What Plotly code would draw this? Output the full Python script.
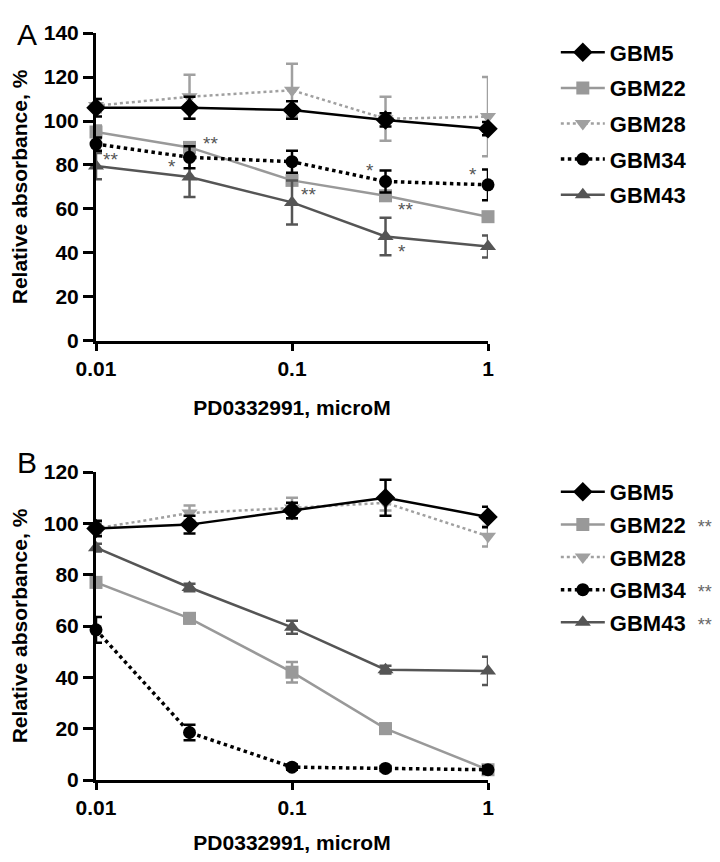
import math
import plotly.graph_objects as go

# ---------------- data ----------------
conc = [0.01, 0.03, 0.1, 0.3, 1]
names = ["GBM5", "GBM22", "GBM28", "GBM34", "GBM43"]

# Panel A
a_gbm5 = [106, 106, 105, 100.5, 96.5]
a_gbm5_err = [4, 5, 4, 3, 3]
a_gbm22 = [95, 88, 73, 66, 56.5]
a_gbm22_err = [3, 2, 2, 2, 1.5]
a_gbm28 = [107, 111, 114, 101, 102]
a_gbm28_err = [3, 10, 12, 10, 18]
a_gbm34 = [89.5, 83.5, 81.5, 72.5, 71]
a_gbm34_err = [3, 5, 5, 5, 7]
a_gbm43 = [79.5, 74.5, 63, 47.5, 43]
a_gbm43_err = [6, 9, 10, 8.5, 5]

# Panel B
b_gbm5 = [98, 99.5, 105, 110, 102.5]
b_gbm5_err = [3, 3.5, 3, 7, 4]
b_gbm22 = [77, 63, 42, 20, 4]
b_gbm22_err = [2, 2, 4, 2, 1]
b_gbm28 = [98, 104, 106, 108, 95]
b_gbm28_err = [2, 3, 4, 3, 4]
b_gbm34 = [58.5, 18.5, 5, 4.5, 4]
b_gbm34_err = [5, 3, 1, 1, 1.5]
b_gbm43 = [90.5, 75, 59.5, 43, 42.5]
b_gbm43_err = [1.5, 1.5, 2.5, 1.5, 5.5]

# significance marks in panel A (x, y, text)
sig_x = [0.0386, 0.0118, 0.0244, 0.121, 0.25, 0.378, 0.364, 0.838, 1.25, 1.25]
sig_y = [91.4, 84.5, 81, 68.6, 79.5, 61.4, 42.3, 77.3, 56, 37.3]
sig_t = ["**", "**", "*", "**", "*", "**", "*", "*", "**", "**"]

# legend significance for panel B
b_legend_sig = {"GBM5": "", "GBM22": "**", "GBM28": "", "GBM34": "**", "GBM43": "**"}

x_ticks = [0.01, 0.1, 1]
x_tick_text = ["0.01", "0.1", "1"]
ya_ticks = [0, 20, 40, 60, 80, 100, 120, 140]
yb_ticks = [0, 20, 40, 60, 80, 100, 120]

# ---------------- styles ----------------
style = {
    "GBM5": dict(color="#000000", symbol="diamond", size=15, dash="solid", width=2.5),
    "GBM22": dict(color="#999999", symbol="square", size=13, dash="solid", width=2.5),
    "GBM28": dict(color="#a0a0a0", symbol="triangle-down", size=14, dash="dot", width=2.5),
    "GBM34": dict(color="#000000", symbol="circle", size=13, dash="dot", width=3.5),
    "GBM43": dict(color="#555555", symbol="triangle-up", size=14, dash="solid", width=2.5),
}
draw_order = ["GBM28", "GBM22", "GBM43", "GBM34", "GBM5"]

FONT = "Liberation Sans, Arial, sans-serif"

panel_a = {"GBM5": (a_gbm5, a_gbm5_err), "GBM22": (a_gbm22, a_gbm22_err),
           "GBM28": (a_gbm28, a_gbm28_err), "GBM34": (a_gbm34, a_gbm34_err),
           "GBM43": (a_gbm43, a_gbm43_err)}
panel_b = {"GBM5": (b_gbm5, b_gbm5_err), "GBM22": (b_gbm22, b_gbm22_err),
           "GBM28": (b_gbm28, b_gbm28_err), "GBM34": (b_gbm34, b_gbm34_err),
           "GBM43": (b_gbm43, b_gbm43_err)}

fig = go.Figure()


def add_panel(data, xa, ya, legend, sig_legend=None):
    for n in draw_order:
        vals, err = data[n]
        s = style[n]
        label = "<b>" + n + "</b>"
        if sig_legend and sig_legend[n]:
            label += "\u00a0\u00a0<span style='color:#666666;font-size:18px'>" + sig_legend[n] + "</span>"
        fig.add_trace(go.Scatter(
            x=conc, y=vals, mode="lines+markers", name=label,
            xaxis=xa, yaxis=ya, legend=legend, legendrank=names.index(n) + 1,
            legendgroup=legend + n,
            line=dict(color=s["color"], dash=s["dash"], width=s["width"]),
            marker=dict(color=s["color"], symbol=s["symbol"], size=s["size"],
                        line=dict(width=0)),
            error_y=dict(type="data", array=err, visible=True, color=s["color"],
                         thickness=2.5, width=6),
            cliponaxis=False,
        ))


add_panel(panel_a, "x", "y", "legend")
add_panel(panel_b, "x2", "y2", "legend2", b_legend_sig)

for sx, sy, st in zip(sig_x, sig_y, sig_t):
    fig.add_annotation(x=math.log10(sx), y=sy, text=st, xref="x", yref="y",
                       showarrow=False, yshift=-4,
                       font=dict(family=FONT, size=19, color="#555555"))

fig.add_annotation(x=-0.2066, y=1.0228, xref="paper", yref="paper", text="A",
                   showarrow=False, font=dict(family=FONT, size=30, color="black"))
fig.add_annotation(x=-0.2066, y=0.4257, xref="paper", yref="paper", text="B",
                   showarrow=False, font=dict(family=FONT, size=30, color="black"))

xaxis_common = dict(type="log", range=[-2, 0], tickvals=x_ticks, ticktext=x_tick_text,
                    showline=True, linewidth=3, linecolor="black", ticks="outside",
                    ticklen=7, tickwidth=3, tickcolor="black", showgrid=False,
                    zeroline=False, domain=[0, 1], automargin=False,
                    tickfont=dict(family=FONT, size=21, color="black", weight="bold"),
                    title=dict(text="<b>PD0332991, microM</b>", standoff=22,
                               font=dict(family=FONT, size=21, color="black")))
yaxis_common = dict(showline=True, linewidth=3, linecolor="black", ticks="outside",
                    ticklen=10, tickwidth=3, tickcolor="black", showgrid=False,
                    zeroline=False, automargin=False,
                    tickfont=dict(family=FONT, size=21, color="black", weight="bold"),
                    title=dict(text="<b>Relative absorbance, %</b>", standoff=20,
                               font=dict(family=FONT, size=21, color="black")))

legend_common = dict(font=dict(family=FONT, size=22, color="black"),
                     traceorder="grouped", bgcolor="rgba(0,0,0,0)",
                     xanchor="left", yanchor="top", itemsizing="trace", itemwidth=44)

# page body has 8px margin: figure is 704x846 so the page is 720x862
fig.update_layout(
    width=704, height=846,
    margin=dict(l=88, r=224, t=25, b=74, autoexpand=False),
    paper_bgcolor="white", plot_bgcolor="white",
    xaxis=dict(xaxis_common, anchor="y"),
    yaxis=dict(yaxis_common, domain=[0.5877, 1.0], range=[0, 140], tickvals=ya_ticks, anchor="x"),
    xaxis2=dict(xaxis_common, anchor="y2"),
    yaxis2=dict(yaxis_common, domain=[0.0, 0.4123], range=[0, 120], tickvals=yb_ticks, anchor="x2"),
    legend=dict(legend_common, x=1.173, y=1.002, tracegroupgap=4),
    legend2=dict(legend_common, x=1.173, y=0.4136, tracegroupgap=1),
    showlegend=True,
)

fig.write_html("out.html")
